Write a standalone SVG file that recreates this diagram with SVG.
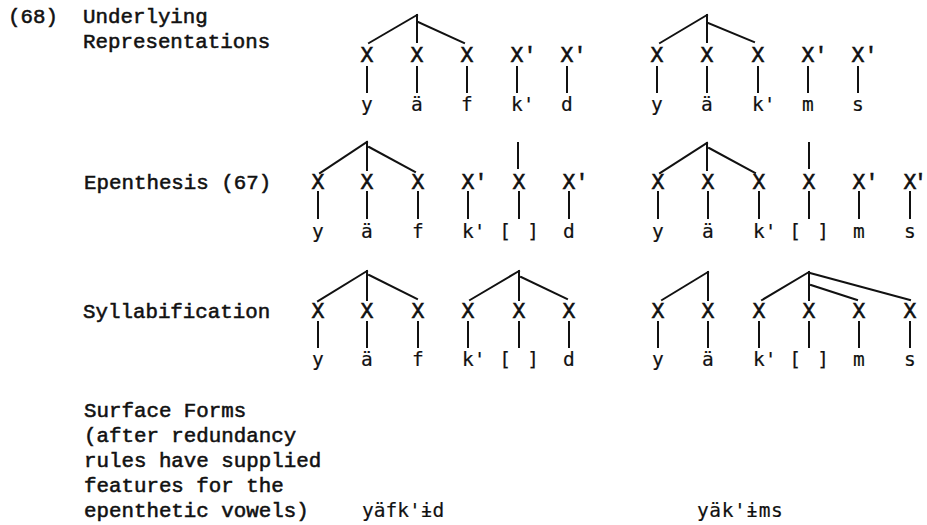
<svg xmlns="http://www.w3.org/2000/svg" width="927" height="525" viewBox="0 0 927 525">
<style>
.lbl{font-family:'Liberation Mono','Courier New',monospace;font-size:20.8px;fill:#111;stroke:#111;stroke-width:0.55px}
.x{font-family:'Liberation Mono','Courier New',monospace;font-size:21.5px;fill:#111;stroke:#111;stroke-width:0.6px}
.seg{font-family:'DejaVu Sans Mono',monospace;font-size:19.5px;fill:#111;stroke:#111;stroke-width:0.2px}
.br{font-family:'DejaVu Sans Mono',monospace;font-size:19.5px;fill:#111;stroke:#111;stroke-width:0.2px;text-anchor:middle}
.c line{stroke:#111;stroke-width:2;stroke-linecap:square}
</style>
<rect width="927" height="525" fill="#fff"/>
<g id="labels">
<text class="lbl" x="8" y="23">(68)</text>
<text class="lbl" x="83" y="23">Underlying</text>
<text class="lbl" x="83" y="48">Representations</text>
<text class="lbl" x="84" y="189">Epenthesis (67)</text>
<text class="lbl" x="83" y="318">Syllabification</text>
<text class="lbl" x="84" y="417">Surface Forms</text>
<text class="lbl" x="84" y="442">(after redundancy</text>
<text class="lbl" x="84" y="467">rules have supplied</text>
<text class="lbl" x="84" y="492">features for the</text>
<text class="lbl" x="84" y="517">epenthetic vowels)</text>
</g>
<g id="connectors" class="c">
<!-- row 1 left -->
<line x1="417" y1="15" x2="369" y2="43"/><line x1="417" y1="15" x2="417" y2="42"/><line x1="418" y1="22" x2="464" y2="43"/>
<!-- row 1 right -->
<line x1="707" y1="15" x2="660" y2="43"/><line x1="707" y1="15" x2="707" y2="42"/><line x1="708" y1="23" x2="754" y2="42"/>
<!-- row 1 stems -->
<line x1="367" y1="67" x2="367" y2="92"/><line x1="417" y1="67" x2="417" y2="92"/><line x1="467" y1="67" x2="467" y2="92"/><line x1="517" y1="67" x2="517" y2="92"/><line x1="567" y1="67" x2="567" y2="92"/>
<line x1="657" y1="67" x2="657" y2="92"/><line x1="707" y1="67" x2="707" y2="92"/><line x1="758" y1="67" x2="758" y2="92"/><line x1="808" y1="67" x2="808" y2="92"/><line x1="858" y1="67" x2="858" y2="92"/>
<!-- row 2 left -->
<line x1="367" y1="142" x2="320" y2="173"/><line x1="367" y1="142" x2="367" y2="170"/><line x1="369" y1="147" x2="415" y2="172"/>
<line x1="518" y1="143" x2="518" y2="168"/>
<!-- row 2 right -->
<line x1="707" y1="143" x2="660" y2="173"/><line x1="707" y1="143" x2="707" y2="170"/><line x1="709" y1="148" x2="755" y2="173"/>
<line x1="809" y1="143" x2="809" y2="168"/>
<!-- row 2 stems -->
<line x1="318" y1="192" x2="318" y2="218"/><line x1="367" y1="192" x2="367" y2="218"/><line x1="418" y1="192" x2="418" y2="218"/><line x1="468" y1="192" x2="468" y2="218"/><line x1="519" y1="192" x2="519" y2="218"/><line x1="569" y1="192" x2="569" y2="218"/>
<line x1="658" y1="192" x2="658" y2="218"/><line x1="708" y1="192" x2="708" y2="218"/><line x1="759" y1="192" x2="759" y2="218"/><line x1="809" y1="192" x2="809" y2="218"/><line x1="859" y1="192" x2="859" y2="218"/><line x1="910" y1="192" x2="910" y2="218"/>
<!-- row 3 left -->
<line x1="367" y1="271" x2="318" y2="301"/><line x1="367" y1="271" x2="367" y2="300"/><line x1="369" y1="275" x2="417" y2="299"/>
<line x1="519" y1="271" x2="470" y2="300"/><line x1="519" y1="271" x2="519" y2="300"/><line x1="521" y1="277" x2="567" y2="299"/>
<!-- row 3 right -->
<line x1="708" y1="272" x2="662" y2="300"/><line x1="708" y1="272" x2="708" y2="300"/>
<line x1="809" y1="272" x2="762" y2="300"/><line x1="809" y1="272" x2="809" y2="300"/><line x1="810" y1="273" x2="910" y2="300"/><line x1="811" y1="285" x2="857" y2="300"/>
<!-- row 3 stems -->
<line x1="318" y1="322" x2="318" y2="347"/><line x1="367" y1="322" x2="367" y2="347"/><line x1="418" y1="322" x2="418" y2="347"/><line x1="468" y1="322" x2="468" y2="347"/><line x1="519" y1="322" x2="519" y2="347"/><line x1="569" y1="322" x2="569" y2="347"/>
<line x1="658" y1="322" x2="658" y2="347"/><line x1="708" y1="322" x2="708" y2="347"/><line x1="759" y1="322" x2="759" y2="347"/><line x1="809" y1="322" x2="809" y2="347"/><line x1="859" y1="322" x2="859" y2="347"/><line x1="910" y1="322" x2="910" y2="347"/>
</g>
<!-- Row 1: Underlying Representations -->
<g id="r1-left">
<g id="r1a-1"><text class="x" x="360.5" y="62">X</text><text class="seg" x="361.1" y="111">y</text></g>
<g id="r1a-2"><text class="x" x="410.5" y="62">X</text><text class="seg" x="411.1" y="111">ä</text></g>
<g id="r1a-3"><text class="x" x="460.5" y="62">X</text><text class="seg" x="461.1" y="111">f</text></g>
<g id="r1a-4"><text class="x" x="510.5" y="62">X'</text><text class="seg" x="511.1" y="111">k'</text></g>
<g id="r1a-5"><text class="x" x="560.5" y="62">X'</text><text class="seg" x="561.1" y="111">d</text></g>
</g>
<g id="r1-right">
<g id="r1b-1"><text class="x" x="650.5" y="62">X</text><text class="seg" x="651.1" y="111">y</text></g>
<g id="r1b-2"><text class="x" x="700.5" y="62">X</text><text class="seg" x="701.1" y="111">ä</text></g>
<g id="r1b-3"><text class="x" x="751.5" y="62">X</text><text class="seg" x="752.1" y="111">k'</text></g>
<g id="r1b-4"><text class="x" x="801.5" y="62">X'</text><text class="seg" x="802.1" y="111">m</text></g>
<g id="r1b-5"><text class="x" x="851.5" y="62">X'</text><text class="seg" x="852.1" y="111">s</text></g>
</g>
<!-- Row 2: Epenthesis -->
<g id="r2-left">
<g id="r2a-1"><text class="x" x="311.5" y="189">X</text><text class="seg" x="312.1" y="238">y</text></g>
<g id="r2a-2"><text class="x" x="360.5" y="189">X</text><text class="seg" x="361.1" y="238">ä</text></g>
<g id="r2a-3"><text class="x" x="411.5" y="189">X</text><text class="seg" x="412.1" y="238">f</text></g>
<g id="r2a-4"><text class="x" x="461.5" y="189">X'</text><text class="seg" x="462.1" y="238">k'</text></g>
<g id="r2a-5"><text class="x" x="512.5" y="189">X</text><text class="br" x="505 519 533" y="238">[ ]</text></g>
<g id="r2a-6"><text class="x" x="562.5" y="189">X'</text><text class="seg" x="563.1" y="238">d</text></g>
</g>
<g id="r2-right">
<g id="r2b-1"><text class="x" x="651.5" y="189">X</text><text class="seg" x="652.1" y="238">y</text></g>
<g id="r2b-2"><text class="x" x="701.5" y="189">X</text><text class="seg" x="702.1" y="238">ä</text></g>
<g id="r2b-3"><text class="x" x="752.5" y="189">X</text><text class="seg" x="753.1" y="238">k'</text></g>
<g id="r2b-4"><text class="x" x="802.5" y="189">X</text><text class="br" x="795 809 823" y="238">[ ]</text></g>
<g id="r2b-5"><text class="x" x="852.5" y="189">X'</text><text class="seg" x="853.1" y="238">m</text></g>
<g id="r2b-6"><text class="x" x="903.5" y="189" letter-spacing="-2.5">X'</text><text class="seg" x="904.1" y="238">s</text></g>
</g>
<!-- Row 3: Syllabification -->
<g id="r3-left">
<g id="r3a-1"><text class="x" x="311.5" y="318">X</text><text class="seg" x="312.1" y="366">y</text></g>
<g id="r3a-2"><text class="x" x="360.5" y="318">X</text><text class="seg" x="361.1" y="366">ä</text></g>
<g id="r3a-3"><text class="x" x="411.5" y="318">X</text><text class="seg" x="412.1" y="366">f</text></g>
<g id="r3a-4"><text class="x" x="461.5" y="318">X</text><text class="seg" x="462.1" y="366">k'</text></g>
<g id="r3a-5"><text class="x" x="512.5" y="318">X</text><text class="br" x="505 519 533" y="366">[ ]</text></g>
<g id="r3a-6"><text class="x" x="562.5" y="318">X</text><text class="seg" x="563.1" y="366">d</text></g>
</g>
<g id="r3-right">
<g id="r3b-1"><text class="x" x="651.5" y="318">X</text><text class="seg" x="652.1" y="366">y</text></g>
<g id="r3b-2"><text class="x" x="701.5" y="318">X</text><text class="seg" x="702.1" y="366">ä</text></g>
<g id="r3b-3"><text class="x" x="752.5" y="318">X</text><text class="seg" x="753.1" y="366">k'</text></g>
<g id="r3b-4"><text class="x" x="802.5" y="318">X</text><text class="br" x="795 809 823" y="366">[ ]</text></g>
<g id="r3b-5"><text class="x" x="852.5" y="318">X</text><text class="seg" x="853.1" y="366">m</text></g>
<g id="r3b-6"><text class="x" x="903.5" y="318">X</text><text class="seg" x="904.1" y="366">s</text></g>
</g>
<!-- Surface forms -->
<g id="surface-left"><text class="seg" x="362" y="517">yäfk'ɨd</text></g>
<g id="surface-right"><text class="seg" x="697" y="517" letter-spacing="0.6">yäk'ɨms</text></g>
</svg>
